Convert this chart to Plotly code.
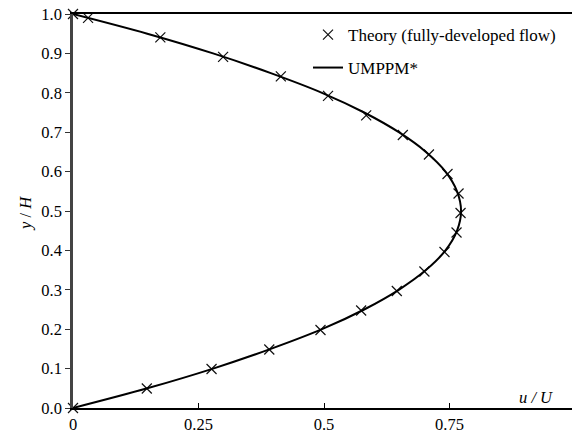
import plotly.graph_objects as go

# Velocity profile across the channel: normalised height vs normalised velocity
theory_y = [0.0, 0.0495, 0.099, 0.1485, 0.198, 0.2475, 0.297, 0.3465, 0.396, 0.4455, 0.495,
            0.5445, 0.594, 0.6435, 0.693, 0.7425, 0.792, 0.8415, 0.891, 0.9405, 0.99, 1.0]
theory_u = [0.0, 0.147, 0.276, 0.391, 0.493, 0.574, 0.645, 0.700, 0.740, 0.764, 0.772,
            0.768, 0.746, 0.709, 0.657, 0.584, 0.508, 0.414, 0.299, 0.174, 0.030, 0.0]

umppm_y = [0.0, 0.05, 0.10, 0.15, 0.20, 0.25, 0.30, 0.35, 0.40, 0.45, 0.50,
           0.55, 0.60, 0.65, 0.70, 0.75, 0.80, 0.85, 0.90, 0.95, 1.0]
umppm_u = [0.0, 0.148, 0.279, 0.394, 0.496, 0.580, 0.649, 0.703, 0.742, 0.765, 0.773,
           0.765, 0.742, 0.703, 0.649, 0.580, 0.496, 0.394, 0.279, 0.148, 0.0]

x_ticks = [0, 0.25, 0.5, 0.75]
x_tick_text = ["0", "0.25", "0.5", "0.75"]
y_ticks = [0.0, 0.1, 0.2, 0.3, 0.4, 0.5, 0.6, 0.7, 0.8, 0.9, 1.0]

FONT = "Liberation Serif"

# plot-area geometry in pixels (used to place legends/labels in paper units)
W, H = 572, 434
L, R, T, B = 73, 0, 14, 26
PW, PH = W - L - R, H - T - B


def px_x(x):
    return (x - L) / PW


def px_y(y):
    return (H - B - y) / PH


fig = go.Figure()
fig.add_trace(go.Scatter(
    x=theory_u, y=theory_y, mode="markers", name="Theory (fully-developed flow)",
    marker=dict(symbol="x-thin-open", size=10, color="#111",
                line=dict(width=1.2, color="#111")),
    cliponaxis=False, legend="legend",
))
fig.add_trace(go.Scatter(
    x=umppm_u, y=umppm_y, mode="lines", name="UMPPM*",
    line=dict(color="black", width=2, shape="spline", smoothing=1.0),
    cliponaxis=False, legend="legend2",
))

legend_style = dict(xanchor="left", yanchor="top", xref="paper", yref="paper",
                    font=dict(family=FONT, size=17), bgcolor="rgba(0,0,0,0)",
                    borderwidth=0)

fig.update_layout(
    width=W, height=H,
    margin=dict(l=L, r=R, t=T, b=B),
    paper_bgcolor="white", plot_bgcolor="white",
    font=dict(family=FONT, size=16.5, color="black"),
    showlegend=True,
    legend=dict(x=px_x(308), y=px_y(17), **legend_style),
    legend2=dict(x=px_x(308), y=px_y(50), **legend_style),
    xaxis=dict(
        range=[0, 0.994], tickvals=x_ticks, ticktext=x_tick_text,
        ticks="inside", ticklen=5, tickwidth=1, tickcolor="black",
        showline=True, linecolor="black", linewidth=1.5, mirror=True,
        showgrid=False, zeroline=False,
        tickfont=dict(family=FONT, size=16.5),
    ),
    yaxis=dict(
        range=[0, 1.0], tickvals=y_ticks, tickformat=".1f",
        ticks="outside", ticklen=5, tickwidth=1, tickcolor="#333",
        showline=True, linecolor="#444", linewidth=2.5,
        showgrid=False, zeroline=False,
        tickfont=dict(family=FONT, size=16.5),
    ),
    annotations=[
        dict(text="<i>y</i> / <i>H</i>", x=px_x(25), y=px_y(214),
             xref="paper", yref="paper", xanchor="center", yanchor="middle",
             showarrow=False, textangle=-90, font=dict(family=FONT, size=16.5)),
        dict(text="<i>u / U</i>", x=px_x(536), y=px_y(397),
             xref="paper", yref="paper", xanchor="center", yanchor="middle",
             showarrow=False, font=dict(family=FONT, size=16.5)),
    ],
)

fig.write_html("out.html")
